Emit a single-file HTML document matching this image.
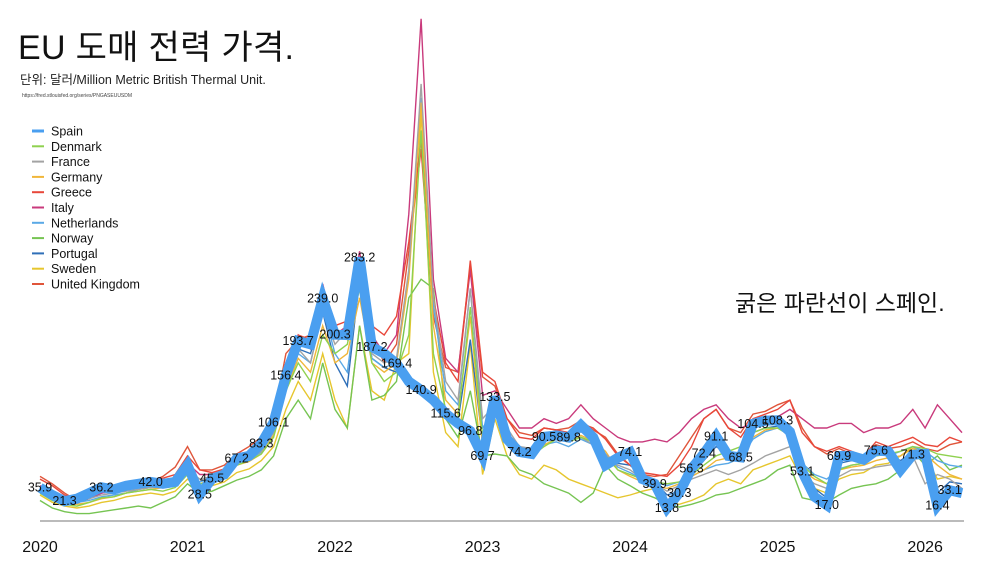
<!DOCTYPE html>
<html><head><meta charset="utf-8">
<style>
html,body{margin:0;padding:0;background:#fff;width:1000px;height:563px;overflow:hidden}
body{font-family:"Liberation Sans","Noto Sans CJK KR",sans-serif;position:relative}
#title{position:absolute;left:18px;top:20px;font-size:34px;color:#111;letter-spacing:0.3px;white-space:nowrap}
#sub{position:absolute;left:20px;top:69px;font-size:12.5px;color:#222;white-space:nowrap}
#url{position:absolute;left:22px;top:93px;font-size:5px;color:#444;white-space:nowrap}
#note{position:absolute;left:735px;top:284px;font-size:23px;color:#111;white-space:nowrap}
svg{position:absolute;left:0;top:0}
</style></head><body>
<div id="title">EU 도매 전력 가격.</div>
<div id="sub">단위: 달러/Million Metric British Thermal Unit.</div>
<div id="url">https://fred.stlouisfed.org/series/PNGASEUUSDM</div>
<div id="note">굵은 파란선이 스페인.</div>
<svg id="chart" width="1000" height="563"></svg>
<script>
const years = ["2020","2021","2022","2023","2024","2025","2026"];
const countries = ["Spain","Denmark","France","Germany","Greece","Italy","Netherlands","Norway","Portugal","Sweden","United Kingdom"];
const colors = ["#4a9ff0","#8fd14f","#a3a3a3","#f0b63a","#e8473a","#c93a7c","#5aa9e6","#76c452","#2f6fb8","#e6c62e","#e0553a"];
const spain = [35.9,28,21.3,24,30,36.2,34,38,40,42.0,40,42,60,28.5,45.5,50,67.2,70,83.3,106.1,156.4,193.7,190,239.0,200.3,200,283.2,187.2,180,169.4,150,140.9,130,115.6,105,96.8,69.7,133.5,88,74.2,72,90.5,92,89.8,103,90,60,68,74.1,45,39.9,13.8,30.3,56.3,72.4,91.1,70,68.5,104.5,108,108.3,96,53.1,26,17.0,69.9,70,66,75.6,75,55,71.3,72,16.4,33.1,30];
const denmark = [30,22,18,16,20,25,26,30,32,34,32,36,50,40,42,48,60,65,72,90,140,170,150,200,180,190,250,170,150,160,200,420,180,120,110,230,90,130,95,75,70,80,88,85,90,85,70,55,50,45,42,40,42,50,60,70,75,80,95,100,100,92,60,48,40,55,60,62,70,72,75,80,78,72,70,68];
const france = [34,28,24,22,24,28,30,32,34,36,38,40,55,45,48,52,62,66,75,95,150,185,170,225,190,205,260,180,170,175,270,470,240,150,130,250,110,125,100,80,78,88,90,86,90,82,72,60,55,45,40,32,38,45,50,55,50,55,62,70,75,80,50,40,35,48,55,55,58,60,62,70,40,50,45,35];
const germany = [32,25,20,18,20,24,26,30,32,34,36,38,52,40,44,48,60,64,72,92,140,175,160,210,170,180,240,170,160,170,260,450,210,130,115,220,80,120,90,72,70,82,88,85,92,86,75,55,48,42,38,35,40,48,55,65,68,72,90,98,100,95,55,45,40,55,58,60,65,68,70,78,72,60,50,45];
const greece = [45,38,28,24,26,32,34,38,40,44,46,50,70,55,52,56,70,74,85,105,170,200,195,245,210,215,270,210,200,220,300,410,240,170,150,280,160,150,110,90,88,100,98,95,105,100,88,70,60,52,50,48,60,80,110,120,100,90,110,115,120,130,95,80,75,80,75,70,85,80,85,90,82,80,90,85];
const italy = [38,32,26,22,24,30,32,36,38,42,44,46,62,50,50,54,68,72,82,100,160,200,185,255,200,210,290,200,180,200,330,540,260,175,160,270,135,140,120,100,100,110,105,110,125,110,100,90,85,85,88,85,95,110,120,125,110,100,105,110,112,120,110,100,100,105,105,95,100,100,105,120,100,125,110,95];
const netherlands = [34,28,22,20,22,26,28,30,34,36,36,38,52,42,46,50,62,66,74,92,145,180,170,230,180,160,260,175,165,170,265,455,230,140,125,250,100,120,95,76,75,82,85,80,88,82,72,58,52,45,42,38,42,48,55,60,62,68,88,96,100,92,62,50,45,56,60,62,72,70,75,80,75,65,60,58];
const norway = [22,14,10,8,8,10,12,14,16,14,20,26,40,30,32,38,44,48,55,70,110,130,110,170,120,100,210,130,135,150,240,260,250,110,90,140,70,72,70,55,50,40,35,30,20,30,60,45,38,30,25,18,15,18,22,28,30,35,40,45,55,60,25,22,20,28,35,38,40,45,55,75,60,70,55,60];
const portugal = [35,28,22,20,24,30,32,36,38,40,40,42,58,35,46,50,64,68,80,100,150,185,180,225,170,145,260,175,165,160,145,140,130,118,108,195,85,125,92,74,72,86,90,88,96,88,70,62,60,48,42,28,32,50,65,80,72,70,95,100,102,95,60,35,25,62,65,64,72,72,65,74,72,30,42,40];
const sweden = [28,20,16,14,16,20,22,26,28,30,28,32,45,35,38,42,52,56,65,80,120,150,130,180,130,100,210,140,130,170,180,440,160,95,80,190,50,110,70,50,45,60,55,45,40,35,30,25,28,32,35,20,18,22,28,40,45,40,55,60,65,70,45,35,30,45,50,52,60,62,70,80,70,45,48,45];
const uk = [48,40,30,22,26,32,34,38,40,42,48,58,80,55,55,60,72,80,90,110,180,195,200,250,205,195,270,200,170,190,290,400,220,165,160,275,155,145,110,95,92,100,98,100,108,98,90,72,60,50,48,50,70,90,110,120,100,95,115,118,125,130,100,80,72,78,72,70,82,78,80,85,78,75,82,85];
const series = [spain,denmark,france,germany,greece,italy,netherlands,norway,portugal,sweden,uk];
const labelIdx = [0,2,5,9,13,14,16,18,19,20,21,23,24,26,27,29,31,33,35,36,37,39,41,43,48,50,51,52,53,54,55,57,58,60,62,64,65,68,71,73,74];

const svg = document.getElementById('chart');
const NS = 'http://www.w3.org/2000/svg';
const X0 = 40, X1 = 962, Y0 = 521, K = 0.93;
const N = spain.length;
function xs(i){ return X0 + (X1 - X0) * i / (N - 1); }
function ys(v){ return Y0 - K * v; }
function mk(tag, attrs){ const e = document.createElementNS(NS, tag); for (const k in attrs) e.setAttribute(k, attrs[k]); svg.appendChild(e); return e; }

const ax = mk('line', {x1:X0, x2:X1+2, y1:Y0, y2:Y0, stroke:'#777', 'stroke-width':1});



years.forEach((y, j) => {
  const t = mk('text', {x: xs(j*12), y: 552, 'text-anchor':'middle', 'font-size':16, fill:'#111'});
  t.textContent = y;
  
  
});

for (let s = series.length - 1; s >= 1; s--) {
  const d = series[s].map((v, i) => (i ? 'L' : 'M') + xs(i).toFixed(1) + ',' + ys(v).toFixed(1)).join('');
  const p = mk('path', {d: d, fill:'none', stroke: colors[s], 'stroke-width': 1.4});
  
  
}
{
  const d = spain.map((v, i) => (i ? 'L' : 'M') + xs(i).toFixed(1) + ',' + ys(v).toFixed(1)).join('');
  const p = mk('path', {d: d, fill:'none', stroke: colors[0], 'stroke-width':10, 'stroke-linejoin':'miter', 'stroke-miterlimit':4});
  
  
}

labelIdx.forEach(i => {
  const t = mk('text', {x: xs(i), y: ys(spain[i]) + 4, 'text-anchor':'middle', 'font-size':12.5, fill:'#111'});
  t.textContent = spain[i].toFixed(1);
  
  
});

countries.forEach((c, j) => {
  const y = 131 + j * 15.3;
  const l = mk('line', {x1:32, x2:44, y1:y, y2:y, stroke: colors[j], 'stroke-width': j === 0 ? 3 : 2});
  
  
  const t = mk('text', {x:51, y:y + 4.5, 'font-size':12.5, fill:'#111'});
  t.textContent = c;
  
  
});
</script>
</body></html>
